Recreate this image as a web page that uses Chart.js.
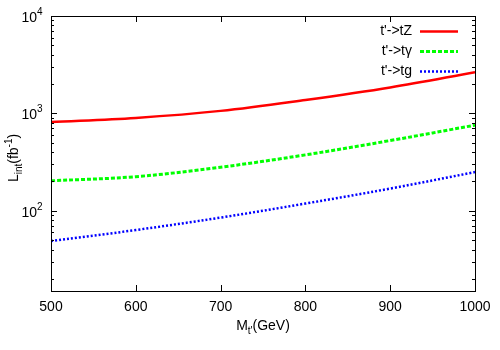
<!DOCTYPE html>
<html>
<head>
<meta charset="utf-8">
<script src="https://cdn.jsdelivr.net/npm/chart.js@4"></script>
<style>
  html, body { margin: 0; padding: 0; background: #fff; }
  #wrap { width: 500px; height: 350px; }
</style>
</head>
<body>
<div id="wrap"><canvas id="lumiChart" width="500" height="350"></canvas></div>
<script>
// values
const masses = [500, 600, 700, 800, 900, 1000];
const lumiTZ = [815, 899, 1061, 1375, 1848, 2653];
const lumiTGamma = [203, 224, 280, 375, 526, 757];
const lumiTG = [48.9, 63.4, 85.1, 118.6, 169, 249.5];

const seriesNames = ["t'->tZ", "t'->t\u03b3", "t'->tg"];
const xTicks = [500, 600, 700, 800, 900, 1000];
const yExponents = [2, 3, 4];
const yMinorTicks = [20, 30, 40, 50, 60, 70, 80, 90, 200, 300, 400, 500, 600, 700, 800, 900,
  2000, 3000, 4000, 5000, 6000, 7000, 8000, 9000];

const FONT = "Liberation Sans, Arial, Helvetica, sans-serif";

function toPoints(ys) {
  return masses.map((m, i) => ({ x: m, y: ys[i] }));
}

// draw text pieces [text, size, dy] one after another, return total width
function drawPieces(ctx, pieces, x, y, measureOnly) {
  let w = 0;
  pieces.forEach(([txt, size, dy]) => {
    ctx.font = size + "px " + FONT;
    if (!measureOnly) ctx.fillText(txt, x + w, y + dy);
    w += ctx.measureText(txt).width;
  });
  return w;
}

// gnuplot style frame, inward ticks, tick labels, axis titles and key
const gnuplotFrame = {
  id: "gnuplotFrame",
  afterDatasetsDraw(chart) {
    const ctx = chart.ctx;
    const area = chart.chartArea;
    const xs = chart.scales.x;
    const ys = chart.scales.y;
    ctx.save();

    ctx.strokeStyle = "#000";
    ctx.lineWidth = 1;
    ctx.strokeRect(area.left + 0.5, area.top + 0.5, area.right - area.left, area.bottom - area.top);

    ctx.beginPath();
    xTicks.forEach((v) => {
      const px = Math.round(xs.getPixelForValue(v)) + 0.5;
      ctx.moveTo(px, area.bottom); ctx.lineTo(px, area.bottom - 6);
      ctx.moveTo(px, area.top); ctx.lineTo(px, area.top + 6);
    });
    yExponents.forEach((e) => {
      const py = Math.round(ys.getPixelForValue(Math.pow(10, e))) + 0.5;
      ctx.moveTo(area.left, py); ctx.lineTo(area.left + 6, py);
      ctx.moveTo(area.right, py); ctx.lineTo(area.right - 6, py);
    });
    yMinorTicks.forEach((v) => {
      const py = Math.round(ys.getPixelForValue(v)) + 0.5;
      ctx.moveTo(area.left, py); ctx.lineTo(area.left + 3, py);
      ctx.moveTo(area.right, py); ctx.lineTo(area.right - 3, py);
    });
    ctx.stroke();

    ctx.fillStyle = "#000";
    ctx.font = "14px " + FONT;
    ctx.textAlign = "center";
    ctx.textBaseline = "alphabetic";
    xTicks.forEach((v) => {
      ctx.fillText(String(v), xs.getPixelForValue(v), area.bottom + 20);
    });

    yExponents.forEach((e) => {
      const py = ys.getPixelForValue(Math.pow(10, e));
      ctx.font = "14px " + FONT;
      ctx.textAlign = "right";
      ctx.fillText("10", 37, py + 6);
      ctx.font = "10px " + FONT;
      ctx.textAlign = "left";
      ctx.fillText(String(e), 37, py - 1);
    });

    ctx.textAlign = "left";

    // x title: M_t'(GeV)
    const xTitle = [["M", 14, 0], ["t'", 10, 4], ["(GeV)", 14, 0]];
    const xw = drawPieces(ctx, xTitle, 0, 0, true);
    drawPieces(ctx, xTitle, 263 - xw / 2, 330, false);

    // y title: L_int(fb^-1)
    const yTitle = [["L", 14, 0], ["int", 10, 4], ["(fb", 14, 0], ["-1", 10, -6], [")", 14, 0]];
    const yw = drawPieces(ctx, yTitle, 0, 0, true);
    ctx.save();
    ctx.translate(18, 158);
    ctx.rotate(-Math.PI / 2);
    drawPieces(ctx, yTitle, -yw / 2, 0, false);
    ctx.restore();

    // key
    chart.data.datasets.forEach((ds, i) => {
      const ky = 31 + i * 20;
      ctx.font = "14px " + FONT;
      ctx.textAlign = "right";
      ctx.textBaseline = "middle";
      ctx.fillStyle = "#000";
      ctx.fillText(ds.label, 412, ky);
      ctx.strokeStyle = ds.borderColor;
      ctx.lineWidth = ds.borderWidth;
      ctx.setLineDash(ds.borderDash || []);
      ctx.beginPath();
      ctx.moveTo(420, ky + 0.5);
      ctx.lineTo(458, ky + 0.5);
      ctx.stroke();
    });
    ctx.setLineDash([]);
    ctx.restore();
  },
};

const ctx = document.getElementById("lumiChart").getContext("2d");
new Chart(ctx, {
  type: "line",
  data: {
    datasets: [
      {
        label: seriesNames[0],
        data: toPoints(lumiTZ),
        borderColor: "#ff0000",
        borderWidth: 2.5,
      },
      {
        label: seriesNames[1],
        data: toPoints(lumiTGamma),
        borderColor: "#00ff00",
        borderWidth: 3,
        borderDash: [4, 2],
      },
      {
        label: seriesNames[2],
        data: toPoints(lumiTG),
        borderColor: "#0000ff",
        borderWidth: 2.5,
        borderDash: [2, 2],
      },
    ],
  },
  options: {
    responsive: false,
    animation: false,
    devicePixelRatio: 1,
    layout: { padding: { left: 51, right: 25, top: 16, bottom: 59 } },
    elements: {
      point: { radius: 0 },
      line: { tension: 0.35, fill: false },
    },
    plugins: {
      legend: { display: false },
      tooltip: { enabled: false },
    },
    scales: {
      x: { type: "linear", display: false, min: 500, max: 1000 },
      y: { type: "logarithmic", display: false, min: 15, max: 10000 },
    },
  },
  plugins: [gnuplotFrame],
});
</script>
</body>
</html>
